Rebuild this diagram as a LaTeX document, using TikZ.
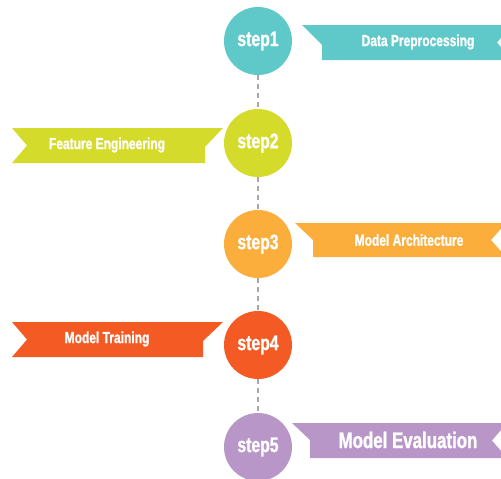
\documentclass[tikz,border=0pt]{standalone}
\usepackage{fontspec}
\usepackage{tikz}
\usetikzlibrary{positioning}
\newfontfamily\bannerfont[FakeStretch=0.75,BoldFeatures={FakeBold=1.2}]{Liberation Sans}
\definecolor{stepteal}{HTML}{5FC8C9}
\definecolor{steplime}{HTML}{D5DB2A}
\definecolor{steporange}{HTML}{FBAE3C}
\definecolor{stepred}{HTML}{F45B24}
\definecolor{steplilac}{HTML}{B996C8}
\definecolor{linkgray}{HTML}{A8A8A8}
\tikzset{
  stepcircle/.style={circle, fill=#1, minimum size=68pt, inner sep=0pt,
    text=white, font=\bannerfont\bfseries\fontsize{21}{21}\selectfont},
  bannertext/.style={text=white, inner sep=0pt,
    font=\bannerfont\bfseries\fontsize{16}{16}\selectfont},
  link/.style={draw=linkgray, line width=1.2pt, dash pattern=on 5pt off 4pt}
}

\begin{document}
\begin{tikzpicture}[x=1pt,y=-1pt]
  \useasboundingbox (0,0) rectangle (501,479);

  % ribbons, folded end towards the circles
  \fill[stepteal] (302,25) -- (512,25) -- (497,42.5) -- (512,60) -- (322,60) -- (322,45) -- cycle;
  \fill[steplime] (223,128) -- (12,128) -- (27,145.5) -- (12,163) -- (205,163) -- (205,147) -- cycle;
  \fill[steporange] (295,223) -- (506,223) -- (491,240) -- (506,257) -- (313,257) -- (313,240) -- cycle;
  \fill[stepred] (223,322) -- (12,322) -- (27,339.5) -- (12,357) -- (203,357) -- (203,341) -- cycle;
  \fill[steplilac] (292,423) -- (507,423) -- (492,440.5) -- (507,458) -- (310,458) -- (310,440) -- cycle;

  \node[bannertext] (lbl1) at (418,42) {Data Preprocessing};
  \node[bannertext] (lbl2) at (107,145) {Feature Engineering};
  \node[bannertext] (lbl3) at (409,240) {Model Architecture};
  \node[bannertext] (lbl4) at (107,339) {Model Training};
  \node[bannertext, font=\bannerfont\bfseries\fontsize{22.5}{22.5}\selectfont]
    (lbl5) at (408,440) {Model Evaluation};

  % the steps
  \node[stepcircle=stepteal] (step1) at (258,41) {step1};
  \node[stepcircle=steplime] (step2) at (258,143) {step2};
  \node[stepcircle=steporange] (step3) at (258,244) {step3};
  \node[stepcircle=stepred] (step4) at (258,345) {step4};
  \node[stepcircle=steplilac] (step5) at (258,447) {step5};

  \foreach \a/\b in {step1/step2,step2/step3,step3/step4,step4/step5}
    \draw[link] (\a) -- (\b);
\end{tikzpicture}
\end{document}
